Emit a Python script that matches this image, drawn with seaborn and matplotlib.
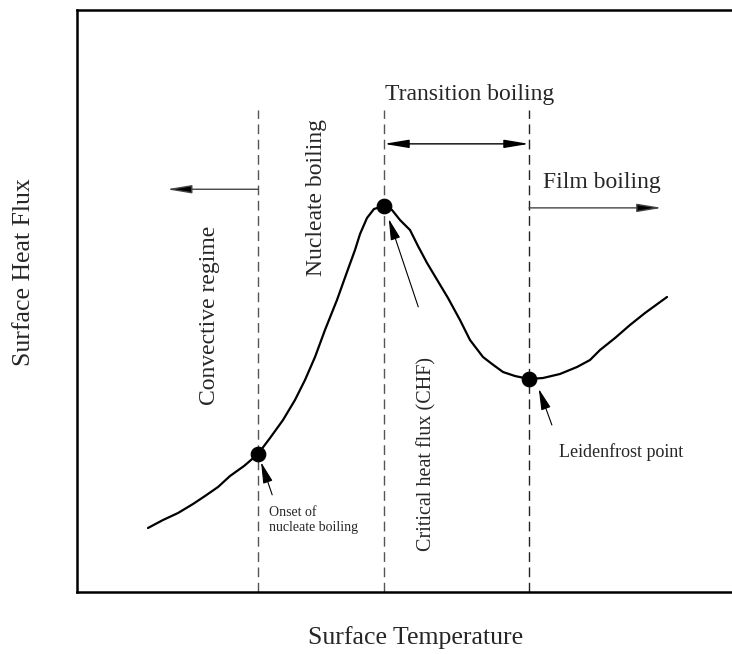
import matplotlib
matplotlib.use("Agg")
import matplotlib.pyplot as plt
import seaborn as sns
import pandas as pd

# Boiling curve: surface heat flux vs surface temperature (arbitrary units, 0-100)
temperature = [10.84, 13.13, 15.42, 17.71, 19.54, 21.53, 23.36, 25.50, 27.63, 29.47,
               31.45, 33.28, 34.81, 36.34, 37.86, 39.69, 41.22, 42.44, 43.21, 44.27,
               45.34, 46.87, 48.09, 49.31, 50.84, 52.06, 53.44, 54.81, 56.64, 58.47,
               60.00, 61.98, 63.36, 65.04, 66.87, 69.01, 71.15, 73.74, 76.34, 78.32,
               79.85, 82.14, 84.43, 86.72, 90.08]
heat_flux = [11.00, 12.37, 13.57, 15.12, 16.49, 18.04, 19.93, 21.65, 23.71, 26.46,
             29.55, 32.99, 36.43, 40.38, 45.02, 50.17, 54.98, 58.76, 61.51, 64.26,
             65.81, 66.32, 65.64, 63.92, 62.20, 59.45, 56.53, 53.95, 50.52, 46.74,
             43.30, 40.38, 39.18, 37.80, 37.11, 36.60, 36.77, 37.46, 38.66, 39.86,
             41.58, 43.64, 45.88, 47.94, 50.69]

# Characteristic points on the curve
point_names = ["Onset of nucleate boiling", "Critical heat flux (CHF)", "Leidenfrost point"]
point_temperature = [27.63, 46.87, 69.01]
point_heat_flux = [23.71, 66.32, 36.60]

curve = pd.DataFrame({"T": temperature, "q": heat_flux})
points = pd.DataFrame({"name": point_names, "T": point_temperature, "q": point_heat_flux})

sns.set_style("white")
plt.rcParams["font.family"] = ["Liberation Serif", "DejaVu Serif"]

fig = plt.figure(figsize=(7.32, 6.54), dpi=100)
ax = fig.add_axes([77 / 732, 62 / 654, 655 / 732, 582 / 654])

sns.lineplot(data=curve, x="T", y="q", ax=ax, color="black", linewidth=1.6,
             sort=False, solid_joinstyle="round", solid_capstyle="round")
sns.scatterplot(data=points, x="T", y="q", ax=ax, color="black", s=110,
                edgecolor="black", zorder=5, legend=False)

ax.set_xlim(0, 100)
ax.set_ylim(0, 100)
ax.set_xticks([])
ax.set_yticks([])
ax.set_xlabel("")
ax.set_ylabel("")
for side in ("top", "left", "bottom"):
    ax.spines[side].set_color("black")
    ax.spines[side].set_linewidth(1.8)
ax.spines["right"].set_visible(False)

# Regime boundaries
dash_top = 82.8
dash_colors = ["#555555", "#555555", "#222222"]
for t, c in zip(point_temperature, dash_colors):
    ax.plot([t, t], [0, dash_top], color=c, linewidth=1.0, linestyle=(0, (7, 4)))

head = "-|>,head_length=1.5,head_width=0.25"
arrow_kw = dict(mutation_scale=10, shrinkA=0, shrinkB=0, fc="black", linewidth=1.0)

# Regime arrows
ax.annotate("", xy=(13.7, 69.2), xytext=(point_temperature[0], 69.2),
            arrowprops=dict(arrowstyle=head, color="#444444", **arrow_kw))
ax.annotate("", xy=(point_temperature[1], 77.0), xytext=(point_temperature[2], 77.0),
            arrowprops=dict(arrowstyle="<|-|>,head_length=1.5,head_width=0.25",
                            color="black", **arrow_kw))
ax.annotate("", xy=(89.3, 66.0), xytext=(point_temperature[2], 66.0),
            arrowprops=dict(arrowstyle=head, color="#444444", **arrow_kw))

# Regime labels
big = 17
ax.text(60.0, 84.5, "Transition boiling", fontsize=big, ha="center", va="baseline")
ax.text(71.1, 69.4, "Film boiling", fontsize=big, ha="left", va="baseline")
ax.text(36.5, 54.3, "Nucleate boiling", fontsize=big, rotation=90, ha="center", va="bottom")
ax.text(20.3, 32.1, "Convective regime", fontsize=big, rotation=90, ha="center", va="bottom")

# Point annotations
small_arrow = dict(arrowstyle="-|>,head_length=1.3,head_width=0.3", mutation_scale=10,
                   shrinkA=0, shrinkB=0, color="black", linewidth=0.8, fc="black")
ax.annotate("", xy=(28.1, 22.3), xytext=(29.8, 16.7), arrowprops=small_arrow)
ax.annotate("", xy=(47.6, 64.1), xytext=(52.1, 49.0), arrowprops=small_arrow)
ax.annotate("", xy=(70.5, 34.9), xytext=(72.5, 28.7), arrowprops=small_arrow)

ax.text(29.3, 14.8, "Onset of\nnucleate boiling", fontsize=10, ha="left", va="top",
        linespacing=1.2)
ax.text(53.4, 7.0, "Critical heat flux (CHF)", fontsize=14.5, rotation=90,
        ha="center", va="bottom")
ax.text(73.6, 24.1, "Leidenfrost point", fontsize=13, ha="left", va="center")

# Axis titles
fig.text(416 / 732, 1 - 638 / 654, "Surface Temperature", fontsize=18.5,
         ha="center", va="center")
fig.text(24 / 732, 1 - 272 / 654, "Surface Heat Flux", fontsize=18.5, rotation=90,
         ha="center", va="center")

fig.savefig("out.png", dpi=100)
